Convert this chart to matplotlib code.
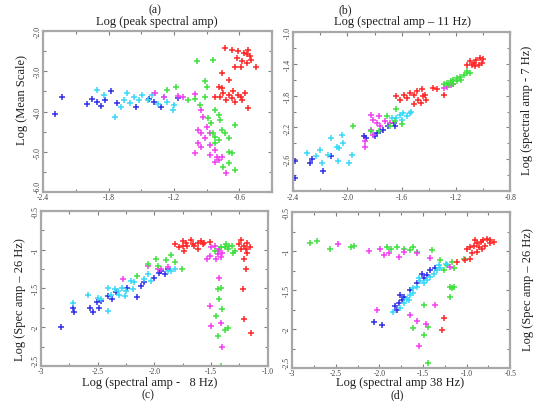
import matplotlib
matplotlib.use("Agg")
import matplotlib.pyplot as plt
from matplotlib.ticker import MultipleLocator

plt.rcParams['font.family'] = ['Liberation Serif', 'DejaVu Serif']

COLORS = {
    'blue': '#3030e8',
    'cyan': '#38d8f8',
    'magenta': '#f040f0',
    'green': '#40e040',
    'red': '#ff2828',
}

# ---- panel (a): peak spectral amp vs mean scale
a_blue_x = [-2.29, -2.23, -2.00, -1.95, -1.87, -1.83, -1.78, -1.91, -1.55, -1.38, -1.32, -1.16, -1.43, -1.72]
a_blue_y = [-4.06, -3.64, -3.82, -3.68, -3.86, -3.71, -3.50, -3.77, -3.88, -3.75, -3.88, -3.67, -3.69, -3.79]
a_cyan_x = [-1.91, -1.74, -1.84, -1.66, -1.60, -1.49, -1.44, -1.35, -1.26, -1.21, -1.20, -1.57, -1.69, -1.52, -1.29, -1.63, -1.40]
a_cyan_y = [-3.46, -4.14, -3.58, -3.71, -3.79, -3.58, -3.71, -3.81, -3.75, -3.96, -3.83, -3.63, -3.88, -3.71, -3.63, -3.54, -3.58]
a_mag_x = [-1.37, -1.29, -1.16, -1.12, -1.01, -0.95, -0.93, -0.90, -0.95, -0.98, -1.01, -0.95, -0.87, -0.82, -0.87, -0.82,
           -0.79, -0.76, -0.72, -0.87, -0.92, -0.98, -0.81]
a_mag_y = [-3.54, -3.65, -3.61, -3.63, -3.56, -3.96, -4.13, -4.38, -4.54, -4.79, -5.04, -4.88, -4.83, -4.96, -5.08, -5.25,
           -5.21, -5.13, -5.54, -4.54, -4.67, -4.46, -5.13]
a_green_x = [-1.26, -1.18, -1.07, -1.01, -0.99, -0.96, -0.92, -0.90, -0.84, -0.82, -0.79, -0.78, -0.84, -0.82, -0.79, -0.76,
             -0.82, -0.73, -0.70, -0.70, -0.67, -0.64, -0.75, -0.70, -0.64, -0.92, -0.86, -0.89]
a_green_y = [-3.46, -3.39, -3.71, -3.69, -2.75, -3.83, -3.25, -3.38, -2.71, -3.96, -4.08, -4.21, -4.54, -4.63, -4.71, -4.46,
             -4.79, -4.54, -4.67, -5.00, -5.04, -4.33, -5.38, -5.29, -5.46, -3.63, -4.29, -4.17]
a_red_x = [-0.76, -0.70, -0.73, -0.67, -0.61, -0.56, -0.53, -0.50, -0.58, -0.53, -0.49, -0.64, -0.59, -0.45, -0.52, -0.62,
           -0.79, -0.75, -0.70, -0.66, -0.61, -0.59, -0.78, -0.76, -0.67, -0.58, -0.52, -0.64, -0.55, -0.72, -0.82]
a_red_y = [-3.04, -3.21, -2.42, -2.46, -2.50, -2.54, -2.58, -2.63, -2.75, -2.79, -2.71, -2.88, -2.88, -2.88, -2.46, -2.67,
           -3.38, -3.54, -3.58, -3.50, -3.58, -3.63, -3.63, -3.42, -3.67, -3.71, -3.92, -3.75, -3.54, -3.71, -3.63]

# ---- panel (b): 11 Hz vs 7 Hz
b_blue_x = [-2.39, -2.39, -2.28, -2.26, -2.18, -2.12, -1.88, -1.86, -1.80, -1.78, -1.74, -1.70, -1.66, -1.65, -1.76]
b_blue_y = [-2.62, -2.83, -2.64, -2.60, -2.75, -2.56, -2.31, -2.33, -2.31, -2.27, -2.23, -2.18, -2.15, -2.18, -2.25]
b_cyan_x = [-2.30, -2.20, -2.19, -2.12, -2.08, -2.06, -2.04, -2.03, -1.99, -1.97, -2.07, -2.23, -2.14, -1.64, -1.61, -1.59,
            -1.56, -1.54, -1.53, -1.60, -1.67]
b_cyan_y = [-2.52, -2.48, -2.64, -2.33, -2.44, -2.46, -2.29, -2.39, -2.64, -2.54, -2.62, -2.56, -2.54, -2.08, -2.04, -2.02,
            -2.06, -2.02, -2.00, -2.10, -2.08]
b_mag_x = [-1.83, -1.81, -1.78, -1.77, -1.76, -1.72, -1.87, -1.87, -1.83, -1.81, -1.29, -1.27, -1.24, -1.22, -1.69]
b_mag_y = [-2.04, -2.10, -2.14, -2.06, -2.18, -2.12, -2.44, -2.37, -2.23, -2.29, -1.70, -1.69, -1.67, -1.66, -2.14]
b_green_x = [-1.96, -1.83, -1.77, -1.71, -1.69, -1.65, -1.60, -1.29, -1.27, -1.24, -1.22, -1.19, -1.17, -1.14, -1.12, -1.10,
             -1.19, -1.16, -1.23, -1.12, -1.26, -1.64]
b_green_y = [-2.18, -2.25, -2.25, -2.06, -2.18, -2.12, -2.16, -1.66, -1.64, -1.62, -1.60, -1.58, -1.56, -1.54, -1.52, -1.51,
             -1.62, -1.60, -1.66, -1.49, -1.67, -1.97]
b_red_x = [-1.64, -1.61, -1.56, -1.54, -1.51, -1.49, -1.48, -1.46, -1.44, -1.43, -1.45, -1.42, -1.37, -1.51, -1.58, -1.10,
           -1.07, -1.05, -1.02, -1.03, -1.00, -1.06, -1.08, -1.01, -1.12, -1.29, -1.34]
b_red_y = [-1.81, -1.85, -1.83, -1.77, -1.79, -1.74, -1.85, -1.89, -1.81, -1.79, -1.72, -1.85, -1.70, -1.91, -1.79, -1.37,
           -1.39, -1.35, -1.33, -1.41, -1.34, -1.43, -1.41, -1.39, -1.41, -1.79, -1.72]

# ---- panel (c): 8 Hz vs 26 Hz
c_blue_x = [-2.82, -2.72, -2.71, -2.57, -2.54, -2.51, -2.49, -2.47, -2.41, -2.37, -2.34, -2.24, -2.15, -2.12, -2.09, -2.00,
            -1.94, -1.91, -1.96, -1.88]
c_blue_y = [-2.00, -1.75, -1.81, -1.75, -1.81, -1.68, -1.75, -1.66, -1.60, -1.64, -1.55, -1.49, -1.61, -1.47, -1.42, -1.36,
            -1.27, -1.32, -1.30, -1.25]
c_cyan_x = [-2.72, -2.59, -2.50, -2.41, -2.38, -2.35, -2.32, -2.29, -2.26, -2.21, -2.19, -2.18, -2.06, -2.41, -2.47, -2.31,
            -1.85, -1.82, -1.88, -2.03, -2.25, -2.09]
c_cyan_y = [-1.69, -1.58, -1.62, -1.50, -1.58, -1.51, -1.53, -1.49, -1.60, -1.40, -1.51, -1.42, -1.32, -1.79, -1.64, -1.58,
            -1.27, -1.25, -1.27, -1.40, -1.53, -1.38]
c_mag_x = [-2.28, -2.06, -1.97, -1.94, -1.88, -1.54, -1.51, -1.50, -1.47, -1.44, -1.41, -1.43, -1.46, -1.43, -1.51, -1.50,
           -1.41, -1.40, -1.44, -1.40]
c_mag_y = [-1.38, -1.21, -1.25, -1.25, -1.23, -1.12, -1.08, -0.97, -0.95, -1.06, -1.10, -0.99, -1.12, -1.36, -1.73, -1.98,
           -1.94, -2.26, -1.02, -1.04]
c_green_x = [-2.15, -2.06, -1.99, -1.97, -1.90, -1.85, -1.82, -1.76, -1.47, -1.41, -1.37, -1.35, -1.32, -1.31, -1.38, -1.29,
             -1.44, -1.41, -1.43, -1.40, -1.38, -1.35, -1.44, -1.41, -1.46, -1.34]
c_green_y = [-1.34, -1.19, -1.12, -1.21, -1.13, -1.07, -1.16, -1.25, -1.02, -0.97, -0.93, -0.99, -0.95, -1.04, -0.97, -1.02,
             -1.51, -1.49, -1.64, -1.77, -2.03, -2.01, -2.11, -2.50, -1.85, -0.95]
c_red_x = [-1.82, -1.78, -1.75, -1.72, -1.71, -1.68, -1.66, -1.62, -1.59, -1.57, -1.65, -1.74, -1.56, -1.51, -1.24, -1.21,
           -1.19, -1.18, -1.16, -1.21, -1.19, -1.18, -1.22, -1.21, -1.15, -1.24, -1.25, -1.62, -1.75]
c_red_y = [-0.93, -0.97, -0.89, -0.91, -0.95, -0.87, -0.93, -0.91, -0.89, -0.93, -0.95, -1.02, -0.91, -0.90, -0.87, -0.95,
           -0.99, -1.04, -0.97, -1.12, -1.25, -0.91, -1.51, -1.90, -2.07, -0.99, -0.93, -0.99, -0.95]

# ---- panel (d): 38 Hz vs 26 Hz
d_green_x = [-2.79, -2.72, -2.57, -2.33, -2.29, -1.91, -1.87, -1.80, -1.72, -1.65, -1.61, -1.57, -1.40, -1.30, -1.23, -1.17,
             -1.15, -1.26, -1.19, -1.17, -1.15, -1.19, -1.49, -1.61, -1.49, -1.44, -1.44, -1.03]
d_green_y = [-0.90, -0.87, -0.97, -0.95, -0.93, -0.95, -0.97, -0.95, -0.97, -0.99, -0.95, -1.01, -0.99, -1.12, -1.18, -1.14,
             -1.22, -1.24, -1.46, -1.48, -1.46, -1.59, -1.69, -1.99, -2.07, -1.97, -2.44, -1.10]
d_mag_x = [-2.47, -2.12, -1.99, -1.95, -1.89, -1.78, -1.72, -1.57, -1.42, -1.19, -2.03, -1.36, -1.57, -1.47, -1.55, -1.65]
d_mag_y = [-0.91, -1.00, -0.97, -1.05, -1.03, -1.07, -1.01, -1.03, -1.09, -1.20, -1.75, -1.69, -1.90, -1.93, -2.22, -1.82]
d_blue_x = [-2.06, -1.97, -1.82, -1.78, -1.74, -1.72, -1.65, -1.57, -1.49, -1.45, -1.42, -1.36, -1.76, -1.80, -1.51]
d_blue_y = [-1.91, -1.95, -1.71, -1.67, -1.63, -1.59, -1.50, -1.41, -1.35, -1.31, -1.24, -1.22, -1.56, -1.76, -1.29]
d_cyan_x = [-1.84, -1.76, -1.72, -1.68, -1.65, -1.61, -1.57, -1.53, -1.49, -1.45, -1.42, -1.38, -1.34, -1.30, -1.61, -1.66,
            -1.32, -1.24, -1.55]
d_cyan_y = [-1.78, -1.73, -1.67, -1.61, -1.56, -1.48, -1.46, -1.39, -1.41, -1.37, -1.33, -1.29, -1.24, -1.22, -1.54, -1.63,
            -1.18, -1.16, -1.35]
d_red_x = [-1.00, -0.96, -0.92, -0.88, -0.84, -0.81, -0.77, -0.73, -0.79, -0.83, -0.88, -0.94, -0.73, -0.69, -0.90, -1.02,
           -0.96, -1.11, -1.26, -1.28, -0.86]
d_red_y = [-0.97, -0.95, -0.93, -0.90, -0.88, -0.86, -0.85, -0.86, -0.93, -0.97, -1.01, -1.03, -0.90, -0.88, -0.86, -1.12,
           -1.10, -1.14, -1.86, -2.01, -0.95]

# tick settings per panel
a_xticks = [-2.4, -1.8, -1.2, -0.6]
a_yticks = [-2.0, -3.0, -4.0, -5.0, -6.0]
b_xticks = [-2.4, -2.0, -1.6, -1.2, -0.8]
b_yticks = [-1.0, -1.4, -1.8, -2.2, -2.6]
c_xticks = [-3.0, -2.5, -2.0, -1.5, -1.0]
c_xlabels = ['-3', '-2.5', '-2.0', '-1.5', '-1.0']
d_xticks = [-3.0, -2.5, -2.0, -1.5, -1.0, -0.5]
d_xlabels = ['-3', '-2.5', '-2.0', '-1.5', '-1.0', '-0.5']
cd_yticks = [-0.5, -1.0, -1.5, -2.0, -2.5]
cd_ylabels = ['-0.5', '-1', '-1.5', '-2', '-2.5']

FRAME = '#a8a8a8'


def scatter_groups(ax, groups):
    for xs, ys, col in groups:
        ax.plot(xs, ys, linestyle='none', marker='+', markersize=5,
                markeredgewidth=1.1, color=COLORS[col])


def style_axes(ax, xlim, ylim, xticks, xlabels, yticks, ylabels, xminor, yminor):
    ax.set_xlim(*xlim)
    ax.set_ylim(*ylim)
    ax.set_xticks(xticks)
    ax.set_xticklabels(xlabels, fontsize=5.5, color='#404040')
    ax.set_yticks(yticks)
    ax.set_yticklabels(ylabels, fontsize=5.5, color='#404040', rotation=90, va='center')
    # lowest y label sits just above the corner, clear of the x labels
    for lab in ax.get_yticklabels():
        if lab.get_text() in ('-6.0', '-2.5'):
            lab.set_va('bottom')
    ax.xaxis.set_minor_locator(MultipleLocator(xminor))
    ax.yaxis.set_minor_locator(MultipleLocator(yminor))
    ax.tick_params(which='both', direction='in', top=True, right=True,
                   color='#808080', length=3, width=0.8, pad=1)
    ax.tick_params(which='minor', length=2)
    for sp in ax.spines.values():
        sp.set_color(FRAME)
        sp.set_linewidth(1.6)


fig = plt.figure(figsize=(5.4, 4.02), dpi=100)
fig.set_facecolor('white')

ax_a = fig.add_axes([0.080, 0.520, 0.424, 0.400])
ax_b = fig.add_axes([0.543, 0.522, 0.402, 0.396])
ax_c = fig.add_axes([0.076, 0.087, 0.420, 0.386])
ax_d = fig.add_axes([0.541, 0.082, 0.404, 0.388])

scatter_groups(ax_a, [(a_blue_x, a_blue_y, 'blue'), (a_cyan_x, a_cyan_y, 'cyan'),
                      (a_mag_x, a_mag_y, 'magenta'), (a_green_x, a_green_y, 'green'),
                      (a_red_x, a_red_y, 'red')])
style_axes(ax_a, (-2.4, -0.3), (-6.0, -2.0), a_xticks, ['%.1f' % v for v in a_xticks],
           a_yticks, ['%.1f' % v for v in a_yticks], 0.3, 0.5)

scatter_groups(ax_b, [(b_blue_x, b_blue_y, 'blue'), (b_cyan_x, b_cyan_y, 'cyan'),
                      (b_mag_x, b_mag_y, 'magenta'), (b_green_x, b_green_y, 'green'),
                      (b_red_x, b_red_y, 'red')])
style_axes(ax_b, (-2.4, -0.8), (-3.0, -1.0), b_xticks, ['%.1f' % v for v in b_xticks],
           b_yticks, ['%.1f' % v for v in b_yticks], 0.2, 0.2)

scatter_groups(ax_c, [(c_blue_x, c_blue_y, 'blue'), (c_cyan_x, c_cyan_y, 'cyan'),
                      (c_mag_x, c_mag_y, 'magenta'), (c_green_x, c_green_y, 'green'),
                      (c_red_x, c_red_y, 'red')])
style_axes(ax_c, (-3.0, -1.0), (-2.5, -0.5), c_xticks, c_xlabels,
           cd_yticks, cd_ylabels, 0.25, 0.25)

scatter_groups(ax_d, [(d_green_x, d_green_y, 'green'), (d_mag_x, d_mag_y, 'magenta'),
                      (d_blue_x, d_blue_y, 'blue'), (d_cyan_x, d_cyan_y, 'cyan'),
                      (d_red_x, d_red_y, 'red')])
style_axes(ax_d, (-3.0, -0.5), (-2.5, -0.5), d_xticks, d_xlabels,
           cd_yticks, cd_ylabels, 0.25, 0.25)

# panel captions and axis labels
txt = dict(fontsize=9, color='#202020')
cap = dict(fontsize=8.5, color='#202020')
fig.text(155 / 540, 1 - 10 / 402, '(a)', ha='center', va='center', **cap)
fig.text(157 / 540, 1 - 22 / 402, 'Log (peak spectral amp)', ha='center', va='center', **txt)
fig.text(22 / 540, 1 - 100 / 402, 'Log (Mean Scale)', rotation=90, ha='center', va='center', **txt)

fig.text(345 / 540, 1 - 10 / 402, '(b)', ha='center', va='center', **cap)
fig.text(403 / 540, 1 - 22 / 402, 'Log (spectral amp \u2013 11 Hz)', ha='center', va='center', **txt)
fig.text(527 / 540, 1 - 110 / 402, 'Log (spectral amp - 7 Hz)', rotation=90, ha='center', va='center', **txt)

fig.text(150 / 540, 1 - 383 / 402, 'Log (spectral amp -   8 Hz)', ha='center', va='center', **txt)
fig.text(148 / 540, 1 - 395 / 402, '(c)', ha='center', va='center', **cap)
fig.text(20 / 540, 1 - 300 / 402, 'Log (Spec amp \u2013 26 Hz)', rotation=90, ha='center', va='center', **txt)

fig.text(400 / 540, 1 - 383 / 402, 'Log (spectral amp 38 Hz)', ha='center', va='center', **txt)
fig.text(397 / 540, 1 - 395 / 402, '(d)', ha='center', va='center', **cap)
fig.text(528 / 540, 1 - 290 / 402, 'Log (Spec amp \u2013 26 Hz)', rotation=90, ha='center', va='center', **txt)

fig.savefig('out.png', dpi=100, facecolor='white')
